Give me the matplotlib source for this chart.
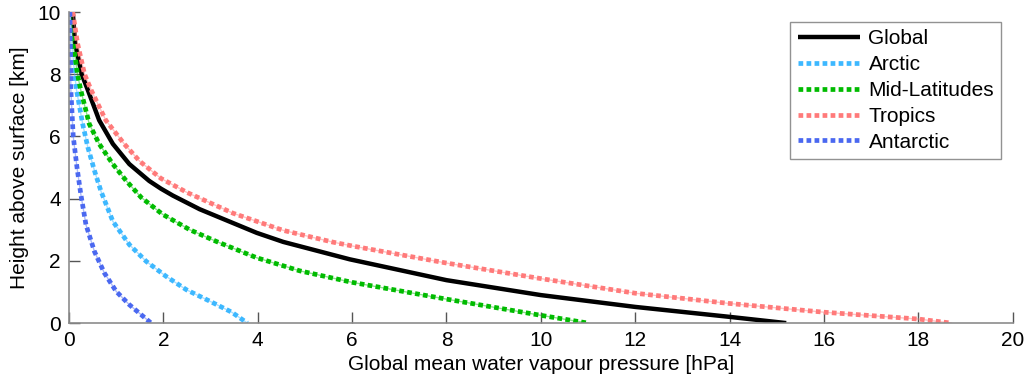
import matplotlib
matplotlib.use('Agg')
import matplotlib.pyplot as plt

plt.rcParams['font.family'] = ['Liberation Sans', 'DejaVu Sans']

# vapour pressure [hPa] vs height [km]
global_x = [0.08, 0.13, 0.27, 0.4, 0.64, 0.93, 1.28, 1.7, 1.95, 2.2, 2.77, 3.98, 4.54, 5.95, 8.0, 10.0, 12.0, 14.0, 15.2]
global_y = [10.0, 9.0, 8.0, 7.49, 6.52, 5.76, 5.11, 4.57, 4.32, 4.1, 3.66, 2.9, 2.61, 2.05, 1.38, 0.9, 0.52, 0.2, 0.0]

arctic_x = [0.03, 0.06, 0.12, 0.16, 0.29, 0.4, 0.54, 0.68, 0.93, 1.28, 1.64, 2.06, 2.49, 2.99, 3.45, 3.78]
arctic_y = [10.0, 9.0, 8.0, 7.49, 6.4, 5.65, 4.9, 4.23, 3.27, 2.52, 1.98, 1.5, 1.07, 0.7, 0.35, 0.0]

midlat_x = [0.05, 0.09, 0.18, 0.25, 0.43, 0.64, 0.93, 1.21, 1.53, 1.98, 2.56, 3.13, 3.98, 4.89, 6.0, 8.0, 10.0, 11.0]
midlat_y = [10.0, 9.0, 8.0, 7.49, 6.4, 5.76, 5.11, 4.58, 4.04, 3.5, 3.0, 2.62, 2.1, 1.68, 1.31, 0.77, 0.25, 0.0]

tropics_x = [0.08, 0.18, 0.33, 0.47, 0.78, 1.17, 1.5, 1.95, 2.5, 3.48, 4.54, 5.6, 6.0, 8.0, 10.0, 12.0, 14.0, 16.0, 18.0, 18.7]
tropics_y = [10.0, 9.0, 8.0, 7.49, 6.52, 5.76, 5.2, 4.65, 4.2, 3.53, 2.98, 2.6, 2.48, 1.93, 1.43, 0.96, 0.63, 0.35, 0.13, 0.0]

antarctic_x = [0.02, 0.03, 0.04, 0.09, 0.17, 0.25, 0.36, 0.54, 0.75, 1.0, 1.28, 1.74]
antarctic_y = [10.0, 9.0, 7.49, 6.0, 5.0, 4.15, 3.16, 2.3, 1.61, 1.02, 0.59, 0.0]

fig = plt.figure(figsize=(10.25, 3.81), dpi=100)
ax = fig.add_axes([0.0673, 0.152, 0.9207, 0.8165])

ax.plot(global_x, global_y, color='black', lw=3.2, label='Global', solid_capstyle='butt')

dotted = [
    (arctic_x, arctic_y, '#3db8ff', 'Arctic'),
    (midlat_x, midlat_y, '#00bb00', 'Mid-Latitudes'),
    (tropics_x, tropics_y, '#ff7a7a', 'Tropics'),
    (antarctic_x, antarctic_y, '#4a68f0', 'Antarctic'),
]
for xs, ys, c, name in dotted:
    ax.plot(xs, ys, color=c, lw=1.0, alpha=0.45)
    ax.plot(xs, ys, color=c, lw=3.4, linestyle=(0, (1.0, 0.7)), label=name)

ax.set_xlim(0, 20)
ax.set_ylim(0, 10)
ax.set_xticks(range(0, 21, 2))
ax.set_yticks(range(0, 11, 2))
ax.set_xlabel('Global mean water vapour pressure [hPa]', fontsize=15, labelpad=3)
ax.set_ylabel('Height above surface [km]', fontsize=15, labelpad=6)

for s in ['top', 'right']:
    ax.spines[s].set_visible(False)
for s in ['left', 'bottom']:
    ax.spines[s].set_color('#8c8c8c')
    ax.spines[s].set_linewidth(1.2)
ax.tick_params(direction='in', length=8, width=1, color='#555555', labelsize=15, pad=6)

leg = ax.legend(loc='upper right', fontsize=15, handlelength=3.0, handletextpad=0.4,
                borderpad=0.35, labelspacing=0.33, fancybox=False, borderaxespad=0,
                bbox_to_anchor=(0.988, 0.968))
leg.get_frame().set_edgecolor('#777777')
leg.get_frame().set_linewidth(1.0)

fig.savefig('out.png', dpi=100)
